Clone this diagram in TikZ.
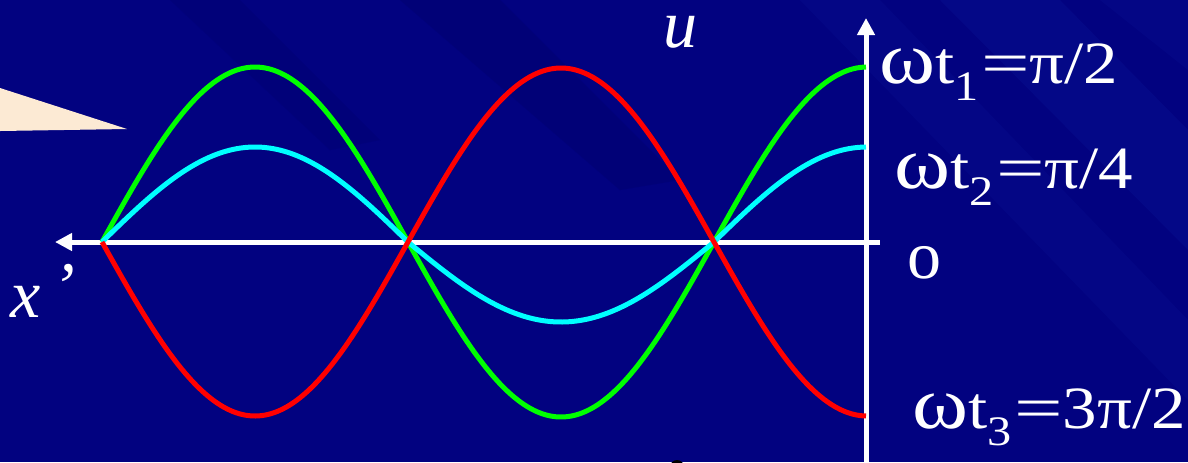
\documentclass[tikz,border=0pt]{standalone}
\usepackage{fontspec}
\setmainfont{Liberation Serif}
\newfontfamily\tnr{Liberation Serif}
\usetikzlibrary{arrows.meta}
\definecolor{bgnavy}{RGB}{2,2,128}
\definecolor{streak}{RGB}{20,40,175}
\definecolor{darkstreak}{RGB}{0,0,85}
\definecolor{peach}{RGB}{252,234,212}
\definecolor{wgreen}{RGB}{0,255,0}
\definecolor{wcyan}{RGB}{0,255,255}
\definecolor{wred}{RGB}{255,0,0}
\tikzset{
  axisline/.style={draw=white, line width=2.5pt, -{Triangle[width=8.5pt,length=8.5pt]}},
  wave/.style={line width=2.5pt, line join=round},
  lbl/.style={text=white, inner sep=0pt, anchor=base west, font=\tnr\fontsize{30}{34}\selectfont},
}
\newcommand{\om}{{\fontsize{37}{40}\selectfont ω}}
\newcommand{\sbs}[1]{\raisebox{-8.5pt}{\fontsize{21}{22}\selectfont #1}\hspace{1pt}}
\newcommand{\wlab}[1]{\scalebox{1.15}[1]{#1}}
\newcommand{\weq}{\scalebox{1.25}[1]{=}}
\begin{document}
\begin{tikzpicture}[x=0.5pt,y=-0.5pt]
\useasboundingbox (0,0) rectangle (1188,462);
% background
\fill[bgnavy] (0,0) rectangle (1188,462);
\fill[streak, opacity=0.16] (940,0) -- (1060,0) -- (1188,130) -- (1188,250) -- cycle;
\fill[streak, opacity=0.12] (800,0) -- (880,0) -- (1188,320) -- (1188,400) -- cycle;
\fill[streak, opacity=0.12] (1100,0) -- (1188,0) -- (1188,70) -- cycle;
\fill[darkstreak, opacity=0.2] (400,0) -- (500,0) -- (680,180) -- (620,190) -- cycle;
\fill[darkstreak, opacity=0.15] (170,0) -- (240,0) -- (380,140) -- (330,150) -- cycle;
% callout tip
\fill[peach] (0,88) -- (127,129) -- (0,131) -- cycle;
% small black blob at bottom edge
\fill[black] (677,467) circle (7);
% coordinates
\coordinate (xend) at (880,242);
\coordinate (xtip) at (55,242);
\coordinate (ubot) at (866,462);
\coordinate (utip) at (866,18);
% axes
\draw[axisline] (xend) -- (xtip);
\draw[axisline] (ubot) -- (utip);
% waves
\draw[wave, wgreen] plot[domain=102:866, samples=240, smooth] (\x, {242 - 175*cos((867-\x)/306*180)});
\draw[wave, wcyan] plot[domain=102:866, samples=240, smooth] (\x, {242 - ifthenelse(cos((867-\x)/306*180)>0,95,80)*cos((867-\x)/306*180)});
\draw[wave, wred] plot[domain=102:866, samples=240, smooth] (\x, {242 + 174*cos((867-\x)/306*180)});
% labels
\node[lbl] (l1) at (879,83) {\wlab{\om t\sbs{1}\weq π/2}};
\node[lbl] (l2) at (894,188) {\wlab{\om t\sbs{2}\weq π/4}};
\node[lbl] (l3) at (912,428) {\wlab{\om t\sbs{3}\weq 3π/2}};
\node[lbl, font=\tnr\fontsize{34}{38}\selectfont] (o) at (907,278) {o};
\node[lbl, font=\tnr\fontsize{34}{38}\selectfont\itshape] (u) at (663,47) {u};
\node[lbl, font=\tnr\fontsize{34}{38}\selectfont\itshape] (xl) at (10,317) {x\hspace{6pt}\raisebox{4pt}{’}};
\end{tikzpicture}
\end{document}
